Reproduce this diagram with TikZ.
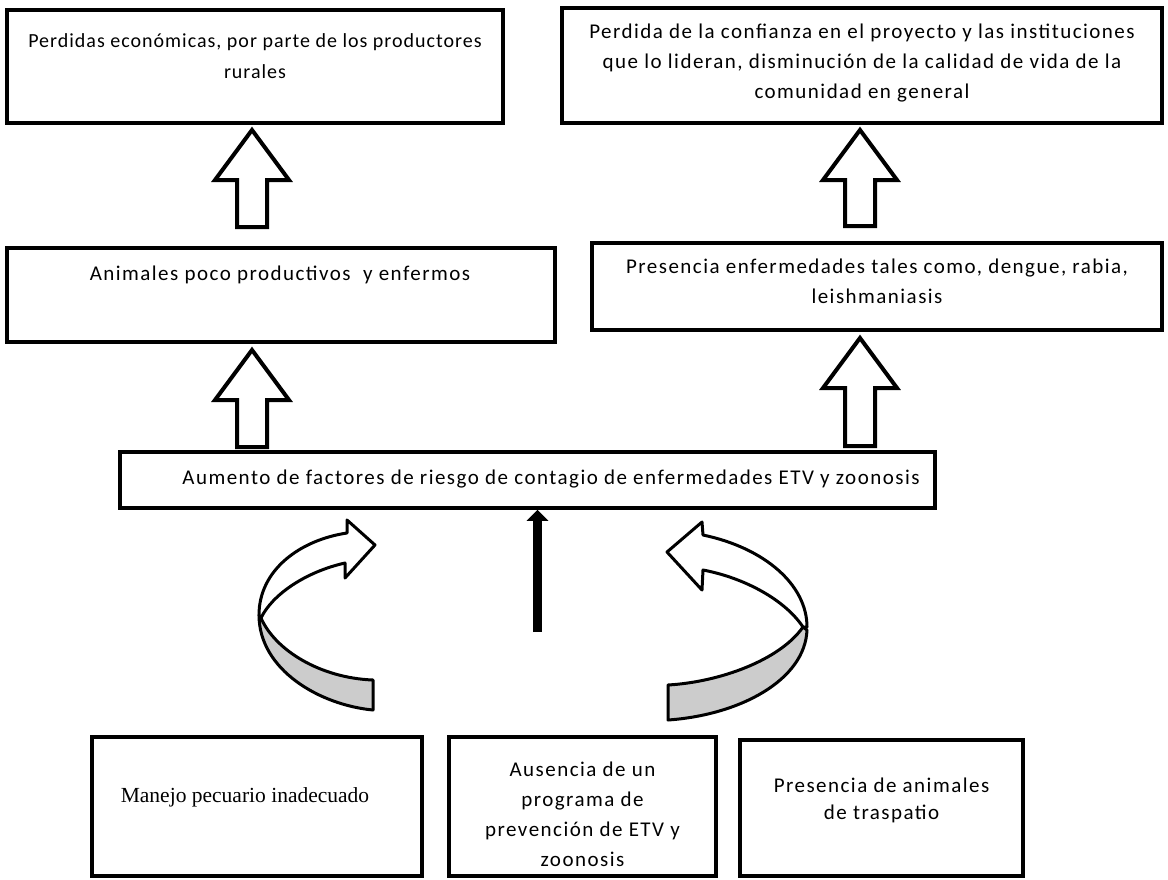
\documentclass[tikz,border=0pt]{standalone}
\usepackage{fontspec}
\setmainfont{Carlito}[LetterSpace=7]
\newfontfamily\timesf{Liberation Serif}
\usetikzlibrary{calc,arrows.meta}
\begin{document}
\begin{tikzpicture}[x=1pt,y=-1pt,
  box/.style={draw=black,line width=3.5pt,rectangle,inner sep=0pt},
  txt/.style={align=center,inner sep=0pt,font=\fontsize{21}{30}\selectfont},
  blk/.style={draw=black,line width=4pt,fill=white,line join=miter},
  curv/.style={draw=black,line width=3pt,line join=round},
  thin/.style={line width=9pt,-{Triangle[width=21pt,length=11pt]}}]
\useasboundingbox (0,0) rectangle (1168,879);
% boxes
\node[box,minimum width=496,minimum height=113] (b1) at (255,66.5) {};
\node[txt,font=\fontsize{20}{31}\selectfont\addfontfeatures{LetterSpace=5}] (t1) at (255,56.5) {Perdidas económicas, por parte de los productores\\rurales};
\node[box,minimum width=600,minimum height=115] (b2) at (862,65.5) {};
\node[txt] (t2) at (862,63) {Perdida de la confianza en el proyecto y las instituciones\\que lo lideran, disminución de la calidad de vida de la\\comunidad en general};
\node[box,minimum width=548,minimum height=94] (b3) at (281,295) {};
\node[txt] (t3) at (280,275) {Animales poco productivos\ \ y enfermos};
\node[box,minimum width=570,minimum height=87] (b4) at (877,286.5) {};
\node[txt] (t4) at (877,281) {Presencia enfermedades tales como, dengue, rabia,\\leishmaniasis};
\node[box,minimum width=815,minimum height=56] (b5) at (527.5,480) {};
\node[txt] (t5) at (551,479) {Aumento de factores de riesgo de contagio de enfermedades ETV y zoonosis};
\node[box,minimum width=330,minimum height=139] (b6) at (257,806.5) {};
\node[txt,font=\timesf\fontsize{21.5}{30}\selectfont] (t6) at (245,797) {Manejo pecuario inadecuado};
\node[box,minimum width=267,minimum height=139] (b7) at (582.5,806.5) {};
\node[txt] (t7) at (582.5,814.5) {Ausencia de un\\programa de\\prevención de ETV y\\zoonosis};
\node[box,minimum width=283,minimum height=136] (b8) at (881.5,808) {};
\node[txt,font=\fontsize{21}{27}\selectfont] (t8) at (881.5,800) {Presencia de animales\\de traspatio};
% block arrows
\coordinate (a1t) at (252,130); \coordinate (a1b) at (252,227);
\coordinate (a2t) at (860,130); \coordinate (a2b) at (860,226);
\coordinate (a3t) at (252,350); \coordinate (a3b) at (252,447);
\coordinate (a4t) at (860,338); \coordinate (a4b) at (860,446);
\foreach \t/\b in {a1t/a1b,a2t/a2b,a3t/a3b,a4t/a4b}{
  \draw[blk] (\t) -- ($(\t)+(37,50)$) -- ($(\t)+(15,50)$) -- ($(\b)+(15,0)$)
    -- ($(\b)+(-15,0)$) -- ($(\t)+(-15,50)$) -- ($(\t)+(-37,50)$) -- cycle;
}
% central arrow
\coordinate (c0) at (537.5,632);
\draw[thin] (c0) -- (b5.south -| c0);
% left curved arrow
\draw[curv,fill=black!20] (259,615) .. controls (259,670) and (320,705) .. (373,710)
  -- (373,680) .. controls (320,678) and (275,650) .. (261,618) -- cycle;
\draw[curv,fill=white] (259,615) .. controls (259,570) and (300,540) .. (347,533)
  -- (347,520) -- (375,545) -- (345,578) -- (345,563)
  .. controls (305,572) and (272,595) .. (261,618) -- cycle;
% right curved arrow
\draw[curv,fill=black!20] (803,627) .. controls (780,660) and (720,682) .. (668,685)
  -- (668,720) .. controls (740,715) and (805,680) .. (807,630) -- cycle;
\draw[curv,fill=white] (807,627) .. controls (807,585) and (765,548) .. (703,535)
  -- (702,522) -- (667,552) -- (702,590) -- (703,570)
  .. controls (745,578) and (785,600) .. (803,627) -- cycle;
\end{tikzpicture}
\end{document}
